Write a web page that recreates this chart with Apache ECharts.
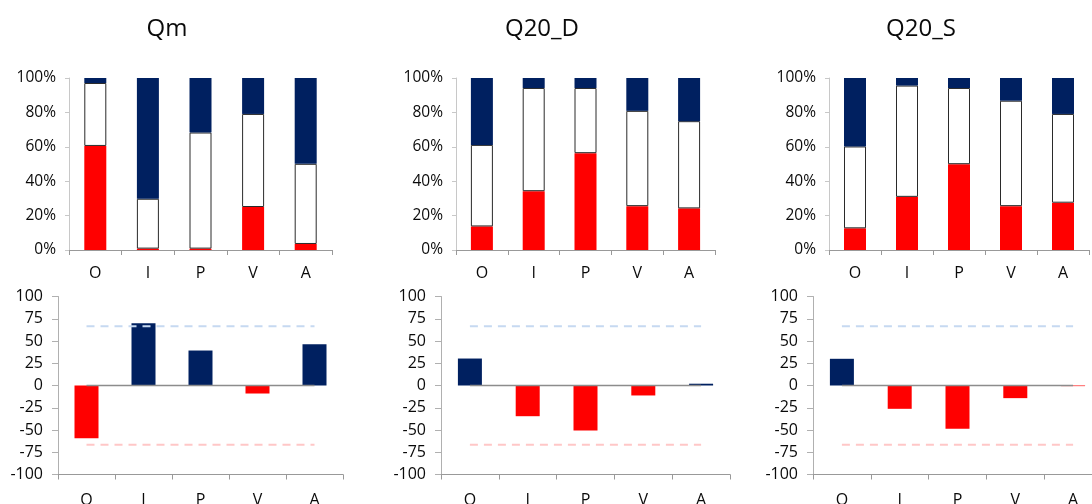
<!DOCTYPE html>
<html>
<head>
<meta charset="utf-8">
<script src="https://cdn.jsdelivr.net/npm/echarts@6/dist/echarts.min.js"></script>
<style>html,body{margin:0;padding:0;background:#fff}#c{width:1092px;height:504px}</style>
</head>
<body>
<div id="c"></div>
<script>
// ---- data ----
const categories = ['O', 'I', 'P', 'V', 'A'];
const panelTitles = ['Qm', 'Q20_D', 'Q20_S'];
const pctTicks = ['0%', '20%', '40%', '60%', '80%', '100%'];

// top panels: share (%) of red / white / navy segments
const qmRed    = [60.5, 0.8, 0.8, 25.0, 3.5];
const qmWhite  = [36.6, 29.0, 67.5, 54.1, 46.6];
const qmNavy   = [2.9, 70.2, 31.7, 20.9, 49.9];

const q20dRed   = [13.7, 34.2, 56.3, 25.5, 24.2];
const q20dWhite = [47.4, 60.0, 37.9, 55.4, 50.7];
const q20dNavy  = [38.9, 5.8, 5.8, 19.1, 25.1];

const q20sRed   = [12.6, 30.9, 49.9, 25.5, 27.5];
const q20sWhite = [47.6, 64.7, 44.3, 61.3, 51.6];
const q20sNavy  = [39.8, 4.4, 5.8, 13.2, 20.9];

// bottom panels: index values
const qmIndex   = [-59.2, 70.0, 39.3, -9.0, 46.4];
const q20dIndex = [30.3, -34.5, -50.6, -11.2, 2.0];
const q20sIndex = [30.0, -26.2, -48.7, -14.2, -0.7];

// reference lines
const zeroLine  = [0, 0, 0, 0, 0];
const upperLine = [66.7, 66.7, 66.7, 66.7, 66.7];
const lowerLine = [-66.7, -66.7, -66.7, -66.7, -66.7];

// ---- layout ----
const RED = '#FF0000', NAVY = '#002060';
const FONT = 'Open Sans';
const topGrids = [
  {left: 69, width: 263},
  {left: 456, width: 259},
  {left: 829, width: 260}
];
const botGrids = [
  {left: 58, width: 285},
  {left: 441, width: 289},
  {left: 813, width: 289}
];
const titleX = [167, 542, 921];

const stacks = [[qmRed, qmWhite, qmNavy], [q20dRed, q20dWhite, q20dNavy], [q20sRed, q20sWhite, q20sNavy]];
const indexes = [qmIndex, q20dIndex, q20sIndex];

const grid = [], xAxis = [], yAxis = [], series = [], graphic = [];

for (let i = 0; i < 3; i++) {
  grid.push({left: topGrids[i].left, width: topGrids[i].width, top: 78, height: 172, outerBoundsMode: 'none', containLabel: false});
  grid.push({left: botGrids[i].left, width: botGrids[i].width, top: 296.5, height: 178, outerBoundsMode: 'none', containLabel: false});
}

for (let g = 0; g < 6; g++) {
  const isTop = g % 2 === 0;
  xAxis.push({
    type: 'category', gridIndex: g, data: categories, boundaryGap: true,
    axisLine: {onZero: false, lineStyle: {color: '#999', width: 1}},
    axisTick: {show: true, length: 5, inside: false, lineStyle: {color: '#999'}},
    axisLabel: {color: '#0a0a0a', fontFamily: FONT, fontSize: 16, margin: isTop ? 15 : 18},
    splitLine: {show: false}
  });
  if (isTop) {
    yAxis.push({
      type: 'value', gridIndex: g, min: 0, max: 100, interval: 20,
      axisLine: {show: true, lineStyle: {color: '#c8c8c8'}},
      axisTick: {show: true, length: 4, lineStyle: {color: '#c8c8c8'}},
      axisLabel: {color: '#0a0a0a', fontFamily: FONT, fontSize: 15.5, margin: 13,
        formatter: v => pctTicks[Math.round(v / 20)]},
      splitLine: {show: false}
    });
  } else {
    yAxis.push({
      type: 'value', gridIndex: g, min: -100, max: 100, interval: 25,
      axisLine: {show: true, onZero: false, lineStyle: {color: '#b0b0b0'}},
      axisTick: {show: true, length: 6, lineStyle: {color: '#b0b0b0'}},
      axisLabel: {color: '#0a0a0a', fontFamily: FONT, fontSize: 16, margin: 15},
      splitLine: {show: false}
    });
  }
}

for (let i = 0; i < 3; i++) {
  const gt = i * 2, gb = i * 2 + 1;
  const [r, w, n] = stacks[i];
  series.push({type: 'bar', xAxisIndex: gt, yAxisIndex: gt, stack: 'p' + i, data: r, barWidth: 22,
    itemStyle: {color: RED}, silent: true});
  series.push({type: 'bar', xAxisIndex: gt, yAxisIndex: gt, stack: 'p' + i, data: w, barWidth: 22,
    itemStyle: {color: '#fff', borderColor: '#2a2a2a', borderWidth: 1}, silent: true});
  series.push({type: 'bar', xAxisIndex: gt, yAxisIndex: gt, stack: 'p' + i, data: n, barWidth: 22,
    itemStyle: {color: NAVY}, silent: true});

  series.push({type: 'bar', xAxisIndex: gb, yAxisIndex: gb, data: indexes[i], barWidth: 24,
    itemStyle: {color: p => p.value >= 0 ? NAVY : RED}, silent: true, z: 2});
  series.push({type: 'line', xAxisIndex: gb, yAxisIndex: gb, data: zeroLine, symbol: 'none',
    lineStyle: {color: '#8c8c8c', width: 1.5}, silent: true, z: 3});
  series.push({type: 'line', xAxisIndex: gb, yAxisIndex: gb, data: upperLine, symbol: 'none',
    lineStyle: {color: '#c6d9f1', width: 2, type: [8, 6]}, silent: true, z: 3});
  series.push({type: 'line', xAxisIndex: gb, yAxisIndex: gb, data: lowerLine, symbol: 'none',
    lineStyle: {color: '#ffc7c7', width: 2, type: [8, 6]}, silent: true, z: 3});

  graphic.push({type: 'text', x: titleX[i], y: 29,
    style: {text: panelTitles[i], fill: '#0a0a0a', font: '24px "' + FONT + '"', textAlign: 'center', textVerticalAlign: 'middle'}});
}

const chart = echarts.init(document.getElementById('c'), null, {renderer: 'canvas'});
chart.setOption({
  animation: false,
  backgroundColor: '#fff',
  grid, xAxis, yAxis, series, graphic
});
</script>
</body>
</html>
